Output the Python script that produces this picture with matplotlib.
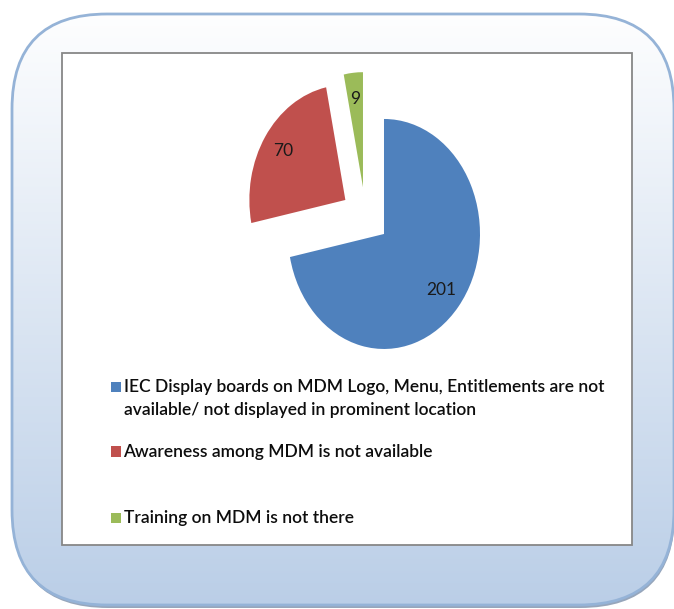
## Import Libraries
import numpy as np
import matplotlib.pyplot as plt
from matplotlib.patches import FancyBboxPatch, Rectangle
from matplotlib.colors import LinearSegmentedColormap

## Data
categories = ['IEC Display boards on MDM Logo, Menu, Entitlements are not\navailable/ not displayed in prominent location',
              'Awareness among MDM is not available',
              'Training on MDM is not there']
values = [201, 70, 9]
colors = ['#4F81BD', '#C0504D', '#9BBB59']

## Figure setup (pixel based layout)
W, H = 674, 609
plt.rcParams['font.family'] = ['Lato', 'DejaVu Sans']
fig = plt.figure(figsize=(W / 100, H / 100), dpi=100)

# background axes in pixel coords, y pointing down
bg = fig.add_axes([0, 0, 1, 1])
bg.set_xlim(0, W)
bg.set_ylim(H, 0)
bg.axis('off')

# rounded panel with shadow, gradient and border
shadow = FancyBboxPatch((13, 17), 662, 591, boxstyle='round,pad=0,rounding_size=95',
                        fc='#8c9db4', ec='none', alpha=0.9)
bg.add_patch(shadow)
panel = FancyBboxPatch((12, 14), 662, 591, boxstyle='round,pad=0,rounding_size=95',
                       fc='none', ec='none')
bg.add_patch(panel)
grad_cmap = LinearSegmentedColormap.from_list('panel', ['#ffffff', '#bacee7'])
grad = bg.imshow(np.linspace(0, 1, 256).reshape(-1, 1), extent=[0, W, H, 0], cmap=grad_cmap,
                 aspect='auto', zorder=1)
grad.set_clip_path(panel)
border = FancyBboxPatch((12, 14), 662, 591, boxstyle='round,pad=0,rounding_size=95',
                        fc='none', ec='#95b3d7', lw=2, zorder=2)
bg.add_patch(border)
# chart area
bg.add_patch(Rectangle((62, 53), 570, 492, fc='white', ec='#878787', lw=1.3, zorder=3))

## Pie (stretched vertically like the source)
cx, cy, rx, ry = 365.4, 215.8, 96, 115
xr, yr = 2.0, 1.4
ax = fig.add_axes([(cx - xr * rx) / W, 1 - (cy + yr * ry) / H, 2 * xr * rx / W, 2 * yr * ry / H])
total = sum(values)
wedges, texts, autotexts = ax.pie(values, colors=colors, startangle=90, counterclock=False,
                                  explode=[0.25] * len(values), pctdistance=0.77,
                                  autopct=lambda p: f'{p * total / 100:.0f}',
                                  textprops=dict(fontsize=12.5, color='#1a1a1a'))
ax.set_aspect('auto')
ax.set_xlim(-xr, xr)
ax.set_ylim(-yr, yr)
ax.axis('off')

## Legend (drawn by hand to mimic the Excel layout)
baselines = [392, 456.5, 523]
line_gap = 23
for label, color, base in zip(categories, colors, baselines):
    bg.add_patch(Rectangle((110.5, base - 10.5), 10.5, 10.5, fc=color, ec='none', zorder=4))
    for i, line in enumerate(label.split('\n')):
        bg.text(123.5, base + i * line_gap, line, fontsize=12.5, color='#0d0d0d',
                fontweight='semibold', va='baseline', ha='left', zorder=4)

fig.savefig('out.png', dpi=100)
